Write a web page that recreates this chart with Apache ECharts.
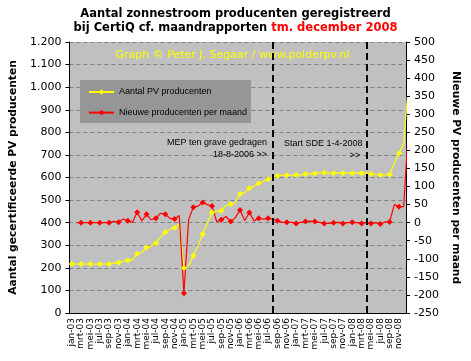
<!DOCTYPE html>
<html><head><meta charset="utf-8">
<script src="https://cdn.jsdelivr.net/npm/echarts@6/dist/echarts.min.js"></script>
<style>html,body{margin:0;padding:0;background:#fff}#c{width:471px;height:361px}</style>
</head><body><div id="c"></div>
<script>
const months = [
 'jan-03','feb-03','mrt-03','apr-03','mei-03','jun-03','jul-03','aug-03','sep-03','okt-03','nov-03','dec-03',
 'jan-04','feb-04','mrt-04','apr-04','mei-04','jun-04','jul-04','aug-04','sep-04','okt-04','nov-04','dec-04',
 'jan-05','feb-05','mrt-05','apr-05','mei-05','jun-05','jul-05','aug-05','sep-05','okt-05','nov-05','dec-05',
 'jan-06','feb-06','mrt-06','apr-06','mei-06','jun-06','jul-06','aug-06','sep-06','okt-06','nov-06','dec-06',
 'jan-07','feb-07','mrt-07','apr-07','mei-07','jun-07','jul-07','aug-07','sep-07','okt-07','nov-07','dec-07',
 'jan-08','feb-08','mrt-08','apr-08','mei-08','jun-08','jul-08','aug-08','sep-08','okt-08','nov-08','dec-08',
 'jan-09'
];
const lastShownMonth = 'dec-08';
const aantalPV = [
 217,217,217,217,217,217,217,217,217,222,223,230,
 234,236,262,268,290,296,309,336,358,371,378,393,
 199,209,253,297,349,400,445,451,453,476,482,489,
 527,533,552,562,574,582,592,601,608,610,610,610,
 611,612,615,616,618,622,621,619,619,619,619,619,
 619,619,619,619,616,614,611,611,613,663,707,750,
 1010
];
const nieuwPerMaand = [
 null,0,0,0,0,0,0,0,0,4,1,10,
 5,1,29,5,23,8,12,26,23,12,10,20,
 -195,8,43,46,56,50,46,3,8,17,3,14,
 35,6,28,5,12,10,12,10,5,1,1,1,
 -2,1,3,4,3,1,-2,-2,0,1,-2,0,
 1,0,-2,1,-2,0,-4,2,2,50,44,44,
 260
];
const eventMonths = ['aug-06','apr-08'];
const seriesNames = ['Aantal PV producenten','Nieuwe producenten per maand'];

const lastIdx = months.indexOf(lastShownMonth);
const fmtNL = v => v >= 1000 ? Math.floor(v/1000) + '.' + String(v % 1000).padStart(3,'0') : String(v);
const hideBeyond = arr => arr.map((v,i) => i > lastIdx ? {value:v, symbol:'none'} : v);

const chart = echarts.init(document.getElementById('c'), null, {renderer:'canvas'});
chart.setOption({
  animation:false,
  backgroundColor:'#ffffff',
  grid:{left:65,right:65,top:42,bottom:48,show:true,backgroundColor:'#c0c0c0',borderWidth:0},
  legend:{
    left:88, top:86, orient:'vertical', itemGap:8.6, itemWidth:25, itemHeight:7, itemTextGap:3,
    padding:0, selectedMode:false, data:seriesNames,
    textStyle:{fontFamily:'Liberation Sans',fontSize:9,color:'#000',lineHeight:12}
  },
  graphic:[
    {type:'text', z:5, x:235.5, y:14, style:{text:'Aantal zonnestroom producenten geregistreerd', fill:'#000', font:'bold 11.5px "DejaVu Sans"', textAlign:'center', textVerticalAlign:'middle'}},
    {type:'text', z:5, x:235.5, y:28, style:{text:'{a|bij CertiQ cf. maandrapporten }{r|tm. december 2008}', textAlign:'center', textVerticalAlign:'middle',
      rich:{a:{fontFamily:'DejaVu Sans',fontWeight:'bold',fontSize:11.5,fill:'#000'}, r:{fontFamily:'DejaVu Sans',fontWeight:'bold',fontSize:11.5,fill:'#ff0000'}}}},
    {type:'rect', z:3, shape:{x:80,y:80,width:171,height:43}, style:{fill:'#969696'}},
    {type:'text', z:5, x:232.5, y:55, style:{text:'Graph © Peter J. Segaar / www.polderpv.nl', fill:'#ffff00', font:'11px "DejaVu Sans"', textAlign:'center', textVerticalAlign:'middle'}},
    {type:'text', z:5, x:267, y:143, style:{text:'MEP ten grave gedragen', fill:'#000', font:'9px "Liberation Sans"', textAlign:'right', textVerticalAlign:'middle'}},
    {type:'text', z:5, x:267, y:155, style:{text:'18-8-2006 >>', fill:'#000', font:'9px "Liberation Sans"', textAlign:'right', textVerticalAlign:'middle'}},
    {type:'text', z:5, x:284, y:144, style:{text:'Start SDE 1-4-2008', fill:'#000', font:'9px "Liberation Sans"', textAlign:'left', textVerticalAlign:'middle'}},
    {type:'text', z:5, x:355, y:156, style:{text:'>>', fill:'#000', font:'9px "Liberation Sans"', textAlign:'center', textVerticalAlign:'middle'}}
  ],
  xAxis:{
    type:'category', data:months, boundaryGap:true, max:lastIdx,
    axisLine:{lineStyle:{color:'#000',width:1}},
    axisTick:{interval:1,length:4,lineStyle:{color:'#000'}},
    axisLabel:{interval:1,rotate:90,fontFamily:'DejaVu Sans',fontSize:9,color:'#000',margin:5},
    splitLine:{show:false}
  },
  yAxis:[
    {type:'value',min:0,max:1200,interval:100,position:'left',
     name:'Aantal gecertificeerde PV producenten',nameLocation:'middle',nameGap:47,nameRotate:90,
     nameTextStyle:{fontFamily:'DejaVu Sans',fontWeight:'bold',fontSize:10.7,color:'#000'},
     axisLine:{show:true,lineStyle:{color:'#000',width:1}},
     axisTick:{show:true,length:4,lineStyle:{color:'#000'}},
     axisLabel:{formatter:fmtNL,fontFamily:'DejaVu Sans',fontSize:11,color:'#000',margin:8},
     splitLine:{show:true,lineStyle:{color:'#808080',type:[4,3],width:1}}},
    {type:'value',min:-250,max:500,interval:50,position:'right',
     name:'Nieuwe PV producenten per maand',nameLocation:'middle',nameGap:40,nameRotate:-90,
     nameTextStyle:{fontFamily:'DejaVu Sans',fontWeight:'bold',fontSize:10.7,color:'#000'},
     axisLine:{show:true,lineStyle:{color:'#000',width:1}},
     axisTick:{show:true,length:4,lineStyle:{color:'#000'}},
     axisLabel:{fontFamily:'DejaVu Sans',fontSize:11,color:'#000',margin:8},
     splitLine:{show:false}}
  ],
  series:[
    {name:seriesNames[0],type:'line',yAxisIndex:0,data:hideBeyond(aantalPV),clip:false,
     symbol:'diamond',symbolSize:6,color:'#ffff00',itemStyle:{color:'#ffff00'},
     lineStyle:{color:'#ffff00',width:1.2},
     markLine:{silent:true,symbol:'none',label:{show:false},
       lineStyle:{color:'#000',width:2,type:[7,4]},
       data:eventMonths.map(m=>({xAxis:m}))}},
    {name:seriesNames[1],type:'line',yAxisIndex:1,data:hideBeyond(nieuwPerMaand),clip:false,
     symbol:'diamond',symbolSize:6,color:'#ff0000',itemStyle:{color:'#ff0000'},
     lineStyle:{color:'#ff0000',width:1.2},connectNulls:false}
  ]
});
</script></body></html>
